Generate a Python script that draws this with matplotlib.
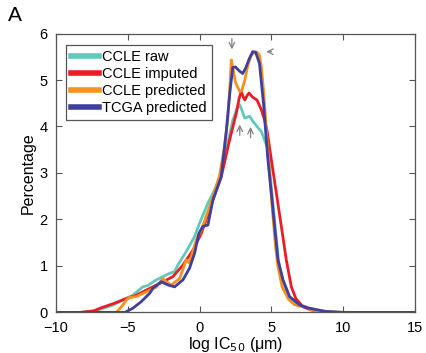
import matplotlib
matplotlib.use("Agg")
import matplotlib.pyplot as plt

plt.rcParams['font.family'] = ['Liberation Sans', 'DejaVu Sans']

# ---- data ----
raw_x = [-10, -8.3, -7.2, -6.0, -5.34, -4.65, -3.95, -3.6, -3.02, -2.09, -1.74, -1.51, -0.93,
         -0.35, 0.0, 0.58, 1.05, 1.39, 1.86, 2.32, 2.6, 2.79, 2.95, 3.14, 3.3, 3.48, 3.72,
         4.0, 4.3, 4.53, 4.76, 5.0, 5.25, 5.5, 5.85, 6.3, 7.0, 7.5, 8.2, 9.0, 10, 15]
raw_y = [0, 0, 0.04, 0.16, 0.27, 0.37, 0.55, 0.58, 0.70, 0.84, 0.88, 1.02, 1.31,
         1.63, 1.92, 2.35, 2.64, 2.89, 3.5, 4.14, 4.38, 4.47, 4.35, 4.18, 4.2, 4.22, 4.11,
         4.0, 3.89, 3.71, 3.5, 2.7, 1.9, 1.1, 0.6, 0.3, 0.15, 0.1, 0.05, 0.01, 0, 0]

imp_x = [-10, -8.33, -7.4, -6.93, -6.0, -5.34, -4.41, -3.72, -2.79, -1.86, -1.16, -0.46,
         0.12, 0.93, 1.51, 2.09, 2.56, 2.75, 2.9, 3.05, 3.15, 3.3, 3.44, 3.7, 4.0, 4.3,
         4.53, 4.69, 5.0, 5.35, 5.7, 6.04, 6.39, 6.7, 7.2, 7.8, 8.6, 10, 15]
imp_y = [0, 0, 0.03, 0.09, 0.19, 0.27, 0.37, 0.48, 0.62, 0.77, 1.02, 1.34,
         1.70, 2.42, 2.92, 3.71, 4.29, 4.6, 4.75, 4.63, 4.57, 4.66, 4.72, 4.63, 4.57, 4.36,
         4.14, 3.93, 3.28, 2.56, 1.84, 1.13, 0.55, 0.3, 0.12, 0.05, 0.01, 0, 0]

pred_x = [-10, -5.8, -5.34, -5.1, -4.88, -4.41, -3.72, -3.0, -2.56, -2.3, -1.97, -1.39,
          -0.93, -0.70, -0.23, 0.12, 0.7, 1.05, 1.39, 1.7, 1.95, 2.1, 2.21, 2.35, 2.5,
          2.65, 2.8, 2.95, 3.15, 3.35, 3.55, 3.75, 3.98, 4.15, 4.3, 4.5, 4.7, 4.9, 5.1,
          5.3, 5.45, 5.75, 6.2, 6.6, 6.97, 7.2, 7.43, 7.7, 8.1, 8.6, 10, 15]
pred_y = [0, 0, 0.16, 0.27, 0.32, 0.34, 0.44, 0.55, 0.73, 0.65, 0.59, 0.73,
          1.13, 1.06, 1.56, 1.77, 2.28, 2.6, 2.95, 3.5, 4.1, 4.8, 5.43, 5.2, 4.95,
          4.85, 4.75, 4.78, 5.0, 5.3, 5.5, 5.58, 5.6, 5.55, 5.3, 4.6, 3.7, 2.9, 2.1,
          1.4, 1.0, 0.55, 0.28, 0.17, 0.13, 0.14, 0.12, 0.07, 0.03, 0.01, 0, 0]

tcga_x = [-10, -5.2, -4.65, -4.07, -3.48, -3.25, -2.67, -2.2, -1.74, -1.16, -0.70, -0.35,
          -0.05, 0.23, 0.58, 0.93, 1.51, 1.86, 2.1, 2.31, 2.5, 2.75, 3.0, 3.2, 3.45, 3.7,
          3.9, 4.17, 4.45, 4.76, 5.0, 5.23, 5.46, 5.81, 6.27, 6.97, 7.5, 8.13, 8.8, 10, 15]
tcga_y = [0, 0, 0.09, 0.23, 0.41, 0.52, 0.66, 0.59, 0.55, 0.70, 0.95, 1.27,
          1.70, 1.85, 1.88, 2.42, 2.92, 3.9, 4.7, 5.27, 5.28, 5.2, 5.14, 5.25, 5.45, 5.61,
          5.6, 5.36, 4.5, 3.28, 2.56, 1.84, 1.13, 0.70, 0.34, 0.16, 0.1, 0.06, 0.02, 0, 0]

labels = ['CCLE raw', 'CCLE imputed', 'CCLE predicted', 'TCGA predicted']
colors = ['#5fcabb', '#ec1c24', '#f7901e', '#3f3f9f']
xticks = [-10, -5, 0, 5, 10, 15]
yticks = [0, 1, 2, 3, 4, 5, 6]

fig = plt.figure(figsize=(4.26, 3.53), dpi=100)
ax = fig.add_axes([0.1315, 0.115, 0.8425, 0.79])

series = [(raw_x, raw_y), (imp_x, imp_y), (pred_x, pred_y), (tcga_x, tcga_y)]
for (xs, ys), lab, c in zip(series, labels, colors):
    ax.plot(xs, ys, color=c, lw=2.0, label=lab, solid_joinstyle='round')

ax.set_xlim(-10, 15)
ax.set_ylim(0, 6)
ax.set_xticks(xticks)
ax.set_yticks(yticks)
ax.tick_params(direction='in', top=True, right=True, labelsize=10.5, length=4,
               color='#555555', width=0.8)
ax.tick_params(axis='x', pad=6)
ax.tick_params(axis='y', pad=6)
for s in ax.spines.values():
    s.set_color('#555555')
    s.set_linewidth(0.9)
ax.set_ylabel('Percentage', fontsize=11.5, labelpad=3)
ax.set_xlabel('log IC$_{50}$ (μm)', fontsize=11.5, labelpad=0)

leg = ax.legend(loc='upper left', bbox_to_anchor=(0.02, 0.97), fontsize=10.5,
                handlelength=1.9, handletextpad=0.2, labelspacing=0.2,
                borderpad=0.35, fancybox=False, framealpha=1, borderaxespad=0.2)
leg.get_frame().set_edgecolor('#555555')
leg.get_frame().set_linewidth(0.9)
for h in leg.get_lines():
    h.set_linewidth(4)

# arrows
acol = '#808080'
ax.annotate('', xy=(2.25, 5.6), xytext=(2.25, 5.95),
            arrowprops=dict(arrowstyle='->', color=acol, lw=0.9))
ax.annotate('', xy=(4.45, 5.61), xytext=(5.2, 5.61),
            arrowprops=dict(arrowstyle='->', color=acol, lw=0.9))
ax.annotate('', xy=(2.8, 4.1), xytext=(2.8, 3.75),
            arrowprops=dict(arrowstyle='->', color=acol, lw=0.9))
ax.annotate('', xy=(3.55, 4.05), xytext=(3.55, 3.7),
            arrowprops=dict(arrowstyle='->', color=acol, lw=0.9))

fig.text(0.018, 0.955, 'A', fontsize=15, va='center', ha='left')

fig.savefig('out.png', dpi=100)
